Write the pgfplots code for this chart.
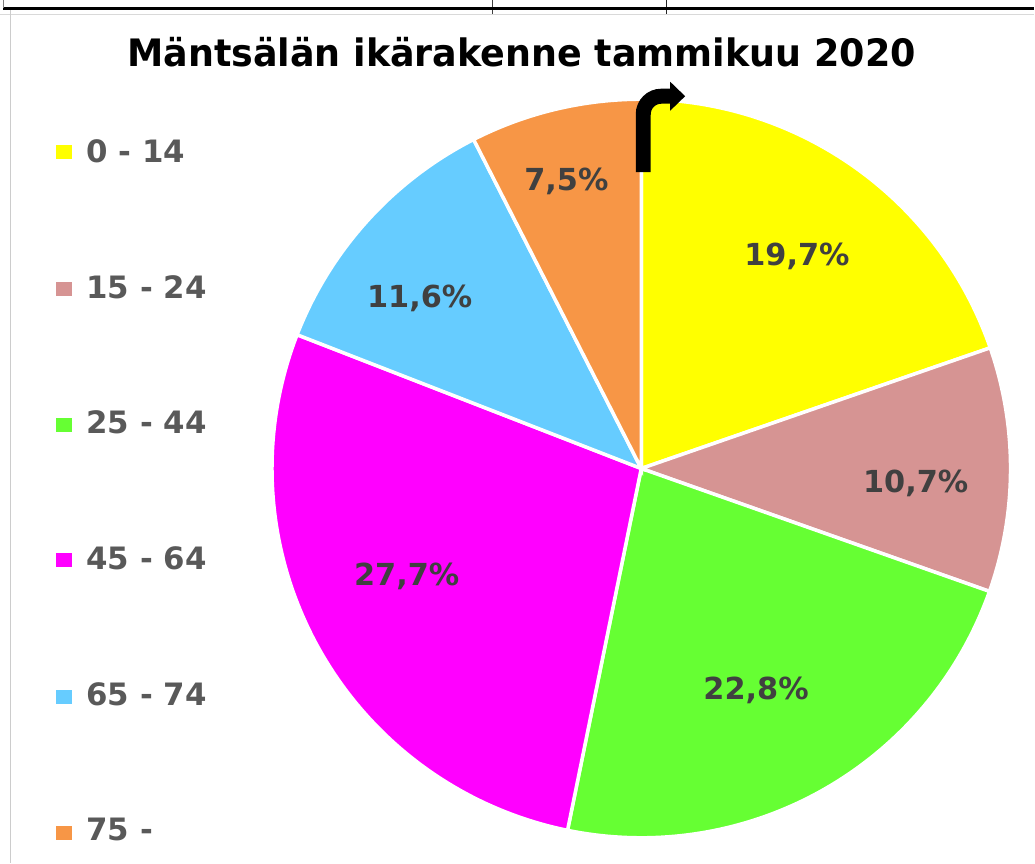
\documentclass[border=0pt]{standalone}
\usepackage{pgfplots}
\pgfplotsset{compat=1.18}
\usepackage{pgfplotstable}
\usepackage{fontspec}
\setmainfont{DejaVu Sans}
\usetikzlibrary{arrows.meta}

\definecolor{c1}{RGB}{255,255,0}
\definecolor{c2}{RGB}{214,148,147}
\definecolor{c3}{RGB}{102,255,51}
\definecolor{c4}{RGB}{255,0,255}
\definecolor{c5}{RGB}{102,204,255}
\definecolor{c6}{RGB}{247,150,70}
\definecolor{labc}{RGB}{64,64,64}
\definecolor{legc}{RGB}{89,89,89}

% age group, share (%), cumulative start, cumulative end
\pgfplotstableread{
group value start end
0-14   19.7  0.0  19.7
15-24  10.7 19.7  30.4
25-44  22.8 30.4  53.2
45-64  27.7 53.2  80.9
65-74  11.6 80.9  92.5
75-     7.5 92.5 100.0
}\pietable

\newcommand{\cx}{642}
\newcommand{\cy}{469}
\newcommand{\rr}{370}

\begin{document}
\begin{tikzpicture}
\begin{axis}[
  width=1035bp, height=864bp, scale only axis,
  xmin=0, xmax=1035, ymin=0, ymax=864, y dir=reverse,
  hide axis, clip=false,
]
% background
\fill[white] (axis cs:0,0) rectangle (axis cs:1035,864);
% screenshot table borders
\draw[black!75, line width=0.8bp] (axis cs:493,0) -- (axis cs:493,14);
\draw[black!85, line width=0.8bp] (axis cs:667,0) -- (axis cs:667,14);
\draw[black!15, line width=1bp] (axis cs:0,14) -- (axis cs:1035,14);
\draw[black, line width=3bp] (axis cs:3,8) -- (axis cs:1035,8);
\draw[black!20, line width=1.5bp] (axis cs:10,10) -- (axis cs:10,864);
\draw[black!50, line width=0.8bp] (axis cs:3,0) -- (axis cs:3,8);

% pie wedges (clockwise from top)
\addplot[fill=c1, draw=white, line width=3.5bp, domain=0.0*3.6:19.7*3.6, samples=80, variable=\t]
  ({\cx+\rr*sin(\t)},{\cy-\rr*cos(\t)}) -- (axis cs:\cx,\cy) -- cycle;
\addplot[fill=c2, draw=white, line width=3.5bp, domain=19.7*3.6:30.4*3.6, samples=60, variable=\t]
  ({\cx+\rr*sin(\t)},{\cy-\rr*cos(\t)}) -- (axis cs:\cx,\cy) -- cycle;
\addplot[fill=c3, draw=white, line width=3.5bp, domain=30.4*3.6:53.2*3.6, samples=80, variable=\t]
  ({\cx+\rr*sin(\t)},{\cy-\rr*cos(\t)}) -- (axis cs:\cx,\cy) -- cycle;
\addplot[fill=c4, draw=white, line width=3.5bp, domain=53.2*3.6:80.9*3.6, samples=90, variable=\t]
  ({\cx+\rr*sin(\t)},{\cy-\rr*cos(\t)}) -- (axis cs:\cx,\cy) -- cycle;
\addplot[fill=c5, draw=white, line width=3.5bp, domain=80.9*3.6:92.5*3.6, samples=60, variable=\t]
  ({\cx+\rr*sin(\t)},{\cy-\rr*cos(\t)}) -- (axis cs:\cx,\cy) -- cycle;
\addplot[fill=c6, draw=white, line width=3.5bp, domain=92.5*3.6:100.0*3.6, samples=40, variable=\t]
  ({\cx+\rr*sin(\t)},{\cy-\rr*cos(\t)}) -- (axis cs:\cx,\cy) -- cycle;

% data labels
\tikzset{dl/.style={text=labc, font=\fontsize{30.5}{33}\selectfont\bfseries, inner sep=0pt}}
\node[dl] at (axis cs:798,256) {19,7\%};
\node[dl] at (axis cs:917,484) {10,7\%};
\node[dl] at (axis cs:757,691) {22,8\%};
\node[dl] at (axis cs:407,577) {27,7\%};
\node[dl] at (axis cs:420,299) {11,6\%};
\node[dl] at (axis cs:567,181) {7,5\%};

% title
\node[font=\fontsize{38}{40}\selectfont\bfseries, text=black, inner sep=0pt] at (axis cs:522,52) {\scalebox{0.965}[1]{Mäntsälän ikärakenne tammikuu 2020}};

% legend
\tikzset{lg/.style={text=legc, font=\fontsize{31}{34}\selectfont\bfseries, inner sep=0pt, anchor=west}}
\fill[c1] (axis cs:56,145) rectangle (axis cs:72,159);
\node[lg] at (axis cs:86,151) {0 - 14};
\fill[c2] (axis cs:56,282) rectangle (axis cs:72,296);
\node[lg] at (axis cs:86,287) {15 - 24};
\fill[c3] (axis cs:56,418) rectangle (axis cs:72,432);
\node[lg] at (axis cs:86,423) {25 - 44};
\fill[c4] (axis cs:56,554) rectangle (axis cs:72,568);
\node[lg] at (axis cs:86,559) {45 - 64};
\fill[c5] (axis cs:56,691) rectangle (axis cs:72,705);
\node[lg] at (axis cs:86,695) {65 - 74};
\fill[c6] (axis cs:56,827) rectangle (axis cs:72,841);
\node[lg] at (axis cs:86,831) {75 -};

% arrow annotation
\draw[black, line width=15bp, rounded corners=18bp, -{Triangle[length=15bp, width=28bp]}]
  (axis cs:644,172) -- (axis cs:644,96) -- (axis cs:686,96);
\end{axis}
\end{tikzpicture}
\end{document}
